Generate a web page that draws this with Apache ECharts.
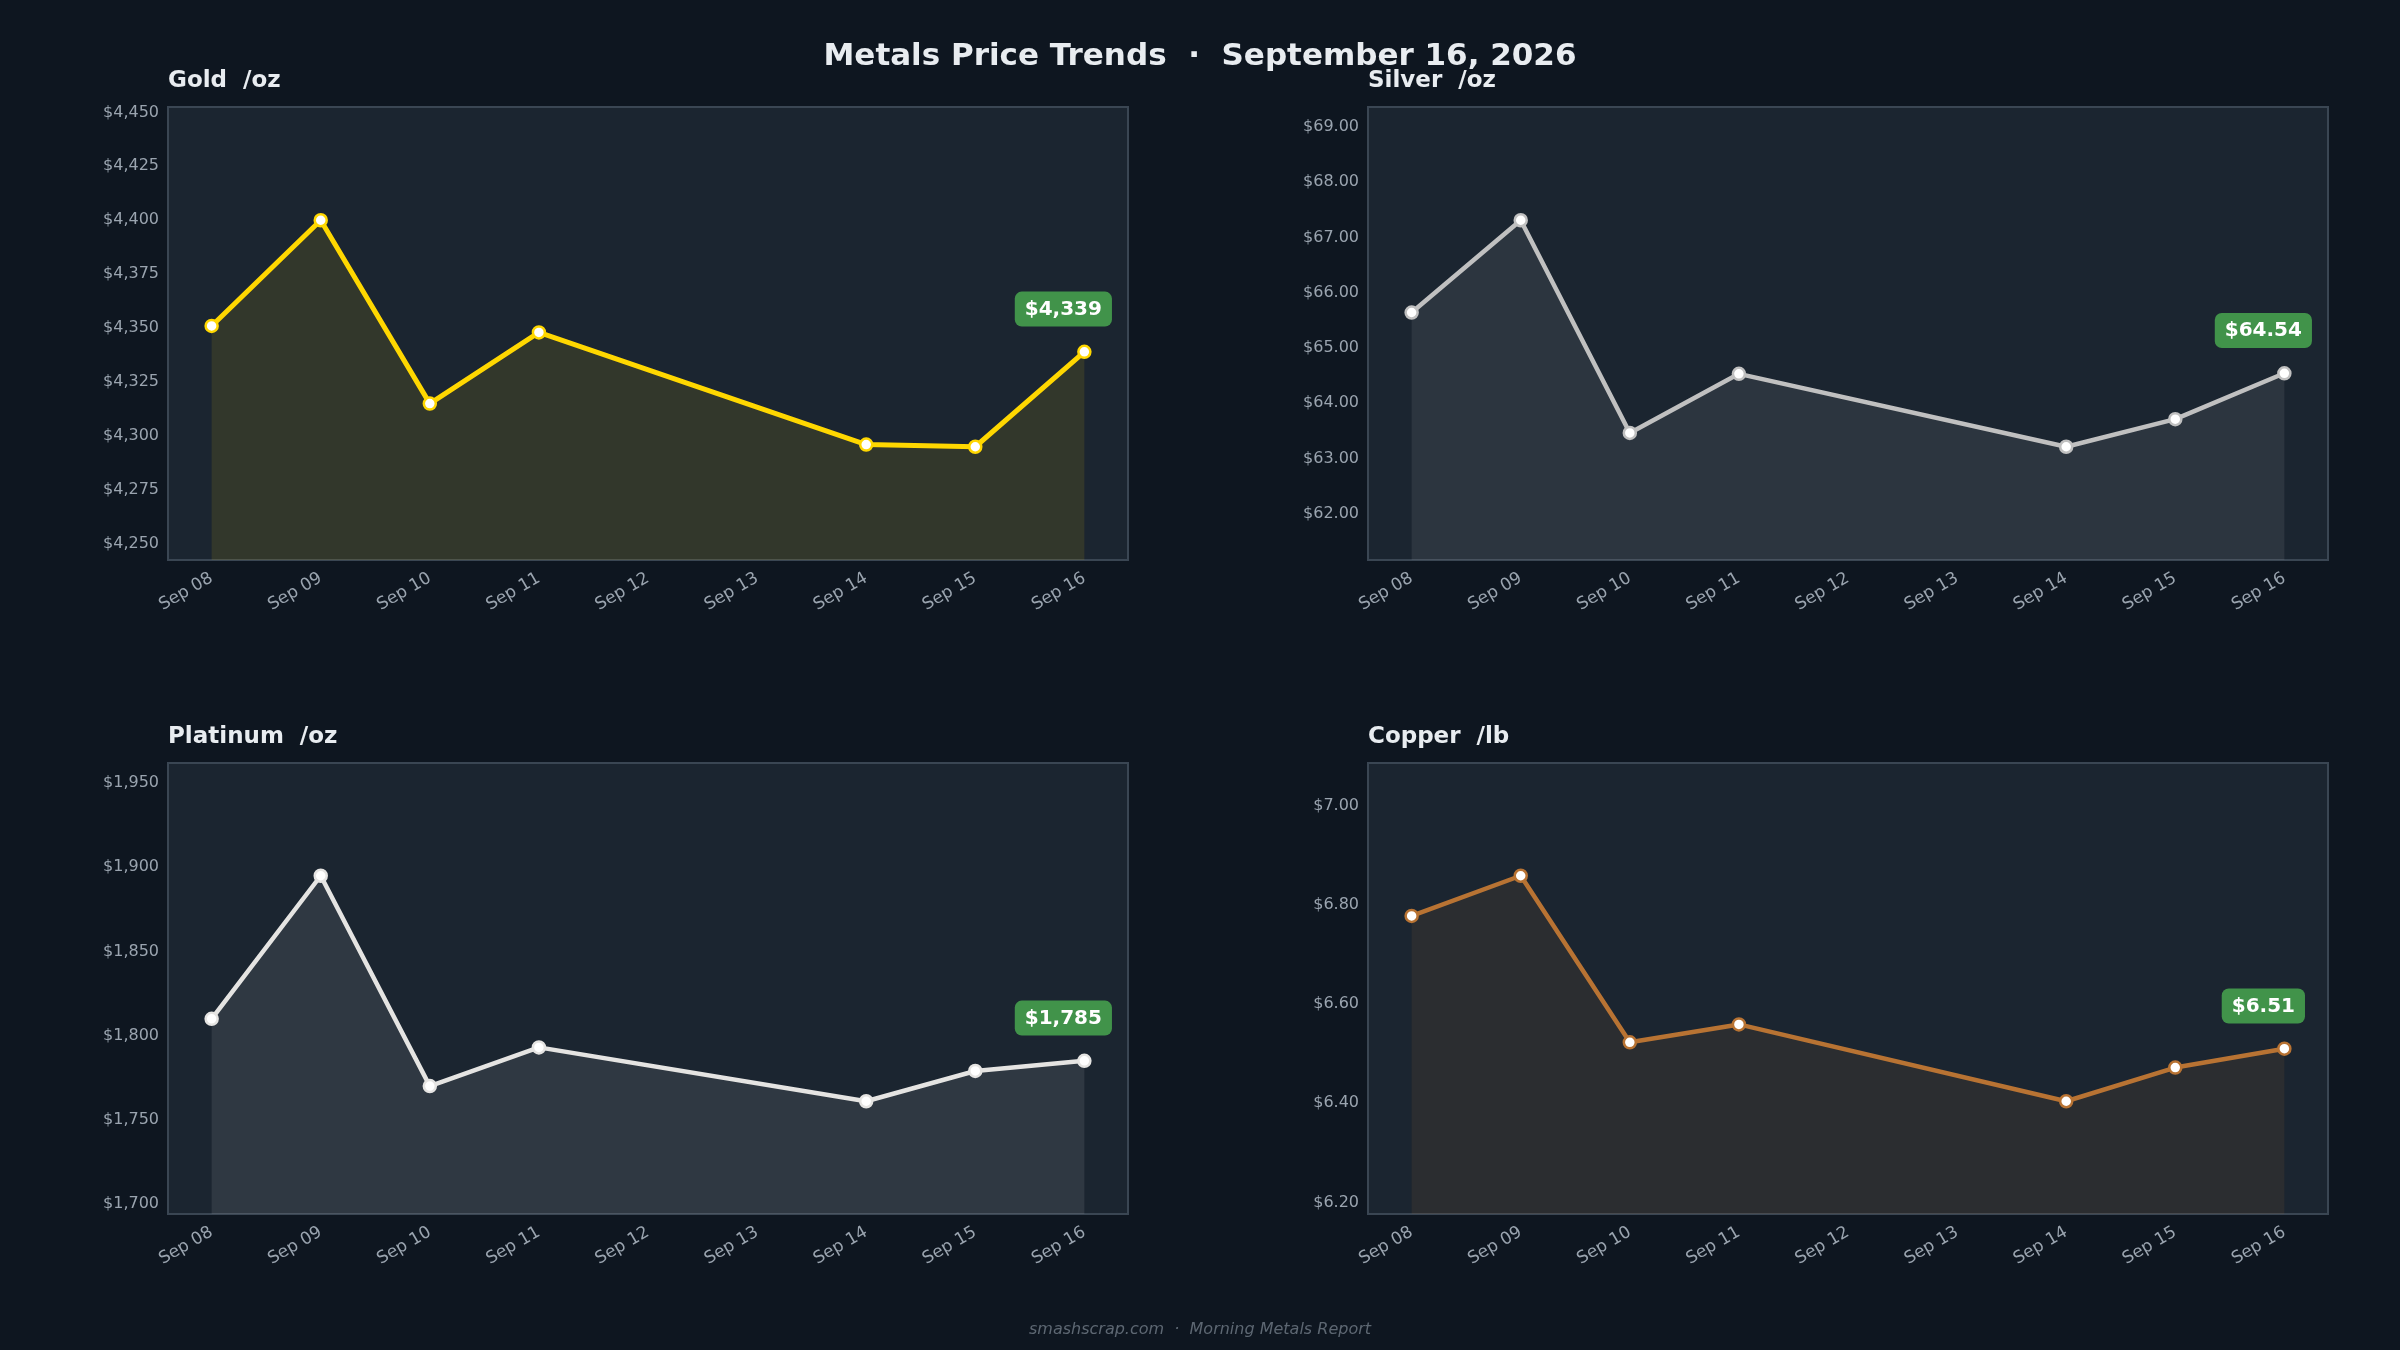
<!DOCTYPE html>
<html>
<head>
<meta charset="utf-8">
<title>Metals Price Trends</title>
<script src="https://cdn.jsdelivr.net/npm/echarts@6/dist/echarts.min.js"></script>
<style>
    html, body { margin: 0; padding: 0; background: #0e1620; }
    #main { width: 2400px; height: 1350px; }
</style>
</head>
<body>
<div id="main"></div>
<script>
// axis days (weekend has no quotes)
var axisDays = ['Sep 08', 'Sep 09', 'Sep 10', 'Sep 11', 'Sep 12', 'Sep 13', 'Sep 14', 'Sep 15', 'Sep 16'];
var tradeDays = ['Sep 08', 'Sep 09', 'Sep 10', 'Sep 11', 'Sep 14', 'Sep 15', 'Sep 16'];

var goldPrices = [4351, 4400, 4315, 4348, 4296, 4295, 4339];
var silverPrices = [65.64, 67.31, 63.46, 64.53, 63.21, 63.71, 64.54];
var platinumPrices = [1810, 1895, 1770, 1793, 1761, 1779, 1785];
var copperPrices = [6.778, 6.859, 6.523, 6.559, 6.404, 6.472, 6.51];

var goldTicks = [4250, 4275, 4300, 4325, 4350, 4375, 4400, 4425, 4450];
var silverTicks = [62, 63, 64, 65, 66, 67, 68, 69];
var platinumTicks = [1700, 1750, 1800, 1850, 1900, 1950];
var copperTicks = [6.2, 6.4, 6.6, 6.8, 7.0];

var panels = [
    { name: 'Gold  /oz', prices: goldPrices, ticks: goldTicks, digits: 0, color: '#FFD700', fill: 'rgba(255,215,0,0.10)', lineWidth: 5 },
    { name: 'Silver  /oz', prices: silverPrices, ticks: silverTicks, digits: 2, color: '#C0C0C0', fill: 'rgba(192,192,192,0.10)', lineWidth: 4.5 },
    { name: 'Platinum  /oz', prices: platinumPrices, ticks: platinumTicks, digits: 0, color: '#E5E4E2', fill: 'rgba(229,228,226,0.10)', lineWidth: 4.5 },
    { name: 'Copper  /lb', prices: copperPrices, ticks: copperTicks, digits: 2, color: '#B87333', fill: 'rgba(184,115,51,0.10)', lineWidth: 4.5 }
];

// grid boxes in px
var boxes = [
    { left: 168, top: 107, width: 960, height: 453 },
    { left: 1368, top: 107, width: 960, height: 453 },
    { left: 168, top: 763, width: 960, height: 451 },
    { left: 1368, top: 763, width: 960, height: 451 }
];

var FONT = 'DejaVu Sans';

function money( v, digits ) {
    var s = v.toFixed( digits );
    var parts = s.split( '.' );
    parts[0] = parts[0].replace( /\B(?=(\d{3})+(?!\d))/g, ',' );
    return '$' + parts.join( '.' );
}

var titles = [{
    text: 'Metals Price Trends  \u00b7  September 16, 2026',
    left: 'center',
    top: 41,
    padding: 0,
    textStyle: { color: '#e8ecf0', fontSize: 31, fontWeight: 'bold', fontFamily: FONT }
}, {
    text: 'smashscrap.com  \u00b7  Morning Metals Report',
    left: 'center',
    top: 1322,
    padding: 0,
    textStyle: { color: '#5d6772', fontSize: 16, fontStyle: 'italic', fontWeight: 'normal', fontFamily: FONT }
}];
var grids = [], xAxes = [], yAxes = [], series = [];

for ( var i = 0; i < panels.length; i++ ) {
    var p = panels[i];
    var b = boxes[i];
    var lo = Math.min.apply( null, p.prices );
    var hi = Math.max.apply( null, p.prices );
    var pad = ( hi - lo ) * 0.5;

    titles.push( {
        text: p.name,
        left: b.left,
        top: b.top - 37,
        padding: 0,
        textStyle: { color: '#e8ecf0', fontSize: 23, fontWeight: 'bold', fontFamily: FONT }
    } );

    grids.push( {
        left: b.left, top: b.top, width: b.width, height: b.height,
        show: true,
        backgroundColor: '#1b2530',
        borderColor: '#3a4653',
        borderWidth: 2,
        containLabel: false
    } );

    xAxes.push( {
        type: 'value',
        gridIndex: i,
        min: -0.4,
        max: axisDays.length - 1 + 0.4,
        axisLine: { show: false },
        axisTick: { show: false },
        splitLine: { show: false },
        axisLabel: {
            customValues: axisDays.map( function ( d, k ) { return k } ),
            formatter: function ( v ) { return axisDays[Math.round( v )] },
            rotate: 30,
            margin: 17,
            color: '#9aa4af',
            fontSize: 17,
            fontFamily: FONT
        }
    } );

    yAxes.push( {
        type: 'value',
        gridIndex: i,
        min: lo - pad,
        max: hi + pad,
        axisLine: { show: false },
        axisTick: { show: false },
        splitLine: { show: false },
        axisLabel: {
            customValues: p.ticks,
            formatter: ( function ( digits ) {
                return function ( v ) { return money( v, digits ) }
            } )( p.digits ),
            margin: 9,
            color: '#9aa4af',
            fontSize: 16,
            fontFamily: FONT
        }
    } );

    var data = [];
    for ( var j = 0; j < tradeDays.length; j++ ) {
        var item = { value: [axisDays.indexOf( tradeDays[j] ), p.prices[j]] };
        if ( j == tradeDays.length - 1 ) {
            item.label = {
                show: true,
                position: 'top',
                distance: 18,
                offset: [-21, 0],
                formatter: money( p.prices[j], p.digits ),
                color: '#ffffff',
                fontSize: 20,
                fontWeight: 'bold',
                fontFamily: FONT,
                backgroundColor: '#41934a',
                borderRadius: 7,
                padding: [8, 10, 7, 10]
            };
        }
        data.push( item );
    }

    series.push( {
        name: p.name,
        type: 'line',
        xAxisIndex: i,
        yAxisIndex: i,
        data: data,
        symbol: 'circle',
        symbolSize: 12,
        silent: true,
        animation: false,
        lineStyle: { color: p.color, width: p.lineWidth },
        itemStyle: { color: '#ffffff', borderColor: p.color, borderWidth: 2.5 },
        areaStyle: { color: p.fill, opacity: 1, origin: 'start' },
        z: 3
    } );
}

var option = {
    backgroundColor: '#0e1620',
    animation: false,
    title: titles,
    grid: grids,
    xAxis: xAxes,
    yAxis: yAxes,
    series: series
};

var chart = echarts.init( document.getElementById( 'main' ), null, { renderer: 'canvas' } );
chart.setOption( option );
</script>
</body>
</html>
